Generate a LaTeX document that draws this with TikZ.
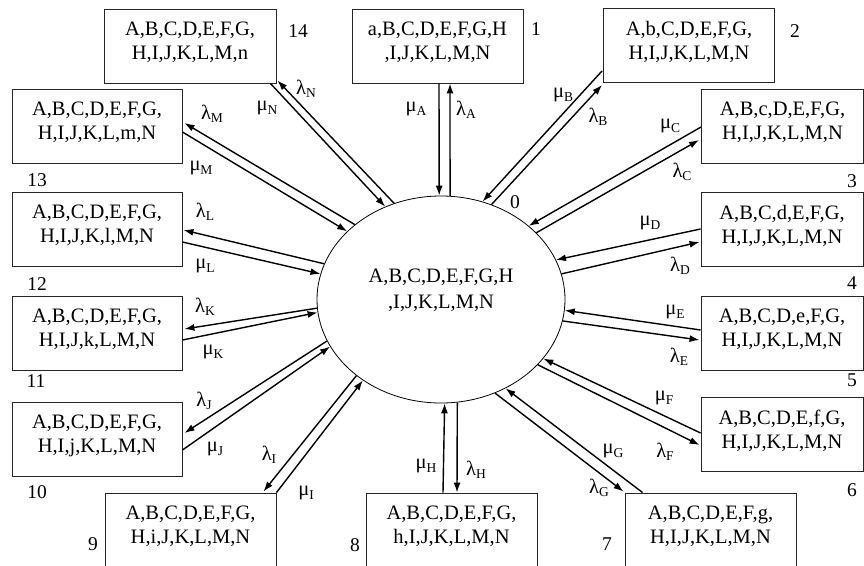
\documentclass[tikz,border=0pt]{standalone}
\usepackage{fontspec}
\setmainfont{Liberation Serif}
\usetikzlibrary{arrows.meta,calc,shapes.geometric}
\newcommand{\gl}[2]{{\fontsize{20.5}{20}\selectfont #1\raisebox{-3.5pt}{\fontsize{13.5}{13}\selectfont #2}}}
\newcommand{\bx}[2]{#1\\#2\rule[-10pt]{0pt}{0pt}}
\begin{document}
\begin{tikzpicture}[x=1pt,y=-1pt,
  state/.style={draw=black!85,line width=0.9pt,minimum width=171,minimum height=74,inner sep=0,align=center,font=\fontsize{20.5}{24}\selectfont},
  rstate/.style={state,minimum width=162},
  hub/.style={ellipse,draw,line width=0.8pt,minimum width=248,minimum height=207,inner sep=0},
  num/.style={inner sep=0,font=\fontsize{19.5}{19}\selectfont},
  lab/.style={inner sep=0},
  tr/.style={line width=1.4pt,-{Latex[length=10pt,width=7pt]}}
]
\useasboundingbox (0,0) rectangle (864,565);
\clip (0,0) rectangle (864,565);

% hub
\node[hub] (c0) at (441,299.5) {};
\node[inner sep=0,align=center,font=\fontsize{20.5}{26}\selectfont] (c0t) at (441,290) {A,B,C,D,E,F,G,H\\,I,J,K,L,M,N};
\node[num] (n0) at (515,202) {0};

% boxes
\node[state]  (b1)  at (437.5,46)  {\bx{a,B,C,D,E,F,G,H}{,I,J,K,L,M,N}};
\node[state]  (b2)  at (689,45.5)  {\bx{A,b,C,D,E,F,G,}{H,I,J,K,L,M,N}};
\node[rstate] (b3)  at (782.5,126) {\bx{A,B,c,D,E,F,G,}{H,I,J,K,L,M,N}};
\node[rstate] (b4)  at (782,229)   {\bx{A,B,C,d,E,F,G,}{H,I,J,K,L,M,N}};
\node[rstate] (b5)  at (782,333)   {\bx{A,B,C,D,e,F,G,}{H,I,J,K,L,M,N}};
\node[rstate] (b6)  at (782,434)   {\bx{A,B,C,D,E,f,G,}{H,I,J,K,L,M,N}};
\node[state]  (b7)  at (710.5,530) {\bx{A,B,C,D,E,F,g,}{H,I,J,K,L,M,N}};
\node[state]  (b8)  at (451.5,530) {\bx{A,B,C,D,E,F,G,}{h,I,J,K,L,M,N}};
\node[state]  (b9)  at (190.5,530) {\bx{A,B,C,D,E,F,G,}{H,i,J,K,L,M,N}};
\node[state,minimum width=170] (b10) at (97,439) {\bx{A,B,C,D,E,F,G,}{H,I,j,K,L,M,N}};
\node[state,minimum width=170] (b11) at (97,333) {\bx{A,B,C,D,E,F,G,}{H,I,J,k,L,M,N}};
\node[state,minimum width=170] (b12) at (97,229) {\bx{A,B,C,D,E,F,G,}{H,I,J,K,l,M,N}};
\node[state,minimum width=170] (b13) at (97,126) {\bx{A,B,C,D,E,F,G,}{H,I,J,K,L,m,N}};
\node[state,minimum width=172] (b14) at (190,46) {\bx{A,B,C,D,E,F,G,}{H,I,J,K,L,M,n}};

% state numbers
\node[num] (n1)  at (536,29)  {1};
\node[num] (n2)  at (795,31)  {2};
\node[num] (n3)  at (852,181) {3};
\node[num] (n4)  at (852,283) {4};
\node[num] (n5)  at (852,380) {5};
\node[num] (n6)  at (852,490) {6};
\node[num] (n7)  at (607,544) {7};
\node[num] (n8)  at (355,545) {8};
\node[num] (n9)  at (93,544)  {9};
\node[num] (n10) at (37,492)  {10};
\node[num] (n11) at (36,381)  {11};
\node[num] (n12) at (37,284)  {12};
\node[num] (n13) at (37,180)  {13};
\node[num] (n14) at (298,31)  {14};

% transitions
\draw[tr] ($(b1.south)+(1.5,0)$) -- (c0.91.1);
\draw[tr] (c0.85) -- ($(b1.south)+(12.5,0)$);

\draw[tr] ($(b2.south west)+(-1,-12)$) -- (c0.67.3);
\draw[tr] (c0.62.7) -- ($(b2.south west)+(-1,2)$);

\draw[tr] ($(b3.west)+(0,1)$) -- (c0.40.9);
\draw[tr] (c0.35.3) -- ($(b3.west)+(-2,14)$);

\draw[tr] (b4.west) -- (c0.19);
\draw[tr] (c0.12.5) -- ($(b4.west)+(-1,13)$);

\draw[tr] ($(b5.west)+(0,-3)$) -- (c0.-5);
\draw[tr] (c0.-10.5) -- ($(b5.west)+(-1,7)$);

\draw[tr] ($(b6.west)+(0,-1)$) -- (c0.-30);
\draw[tr] (c0.-34.2) -- ($(b6.west)+(-1,11)$);

\draw[tr] ($(b7.north west)+(18,0)$) -- (c0.-54.6);
\draw[tr] (c0.-60.4) -- ($(b7.north west)+(-1,-1)$);

\draw[tr] ($(b8.north)+(-8.5,0)$) -- (c0.-88.9);
\draw[tr] (c0.-81.1) -- ($(b8.north)+(5.5,0)$);

\draw[tr] (c0.222.9) -- ($(b9.north east)+(-13,-1)$);
\draw[tr] (b9.north east) -- (c0.226.8);

\draw[tr] (c0.200.3) -- ($(b10.east)+(2,-6)$);
\draw[tr] ($(b10.east)+(0,11)$) -- (c0.203.3);

\draw[tr] (c0.184.6) -- ($(b11.east)+(2,-4)$);
\draw[tr] ($(b11.east)+(0,7)$) -- (c0.186.3);

\draw[tr] (c0.163.3) -- ($(b12.east)+(1,1)$);
\draw[tr] ($(b12.east)+(0,13)$) -- (c0.168.6);

\draw[tr] (c0.139.1) -- ($(b13.east)+(2,-3)$);
\draw[tr] ($(b13.east)+(0,6)$) -- (c0.144.5);

\draw[tr] (c0.116.3) -- ($(b14.south east)+(1,-3)$);
\draw[tr] ($(b14.south east)+(-6,0)$) -- (c0.121.1);

% rate labels
\node[lab] (mA) at (416,109) {\gl{μ}{A}};
\node[lab] (lA) at (466,110) {\gl{λ}{A}};
\node[lab] (mB) at (563,95)  {\gl{μ}{B}};
\node[lab] (lB) at (598,117) {\gl{λ}{B}};
\node[lab] (mC) at (670,126) {\gl{μ}{C}};
\node[lab] (lC) at (682,172) {\gl{λ}{C}};
\node[lab] (mD) at (650,223) {\gl{μ}{D}};
\node[lab] (lD) at (680,266) {\gl{λ}{D}};
\node[lab] (mE) at (675,312) {\gl{μ}{E}};
\node[lab] (lE) at (679,357) {\gl{λ}{E}};
\node[lab] (mF) at (664,398) {\gl{μ}{F}};
\node[lab] (lF) at (665,452) {\gl{λ}{F}};
\node[lab] (mG) at (613,451) {\gl{μ}{G}};
\node[lab] (lG) at (599,488) {\gl{λ}{G}};
\node[lab] (mH) at (426,466) {\gl{μ}{H}};
\node[lab] (lH) at (476,470) {\gl{λ}{H}};
\node[lab] (lI) at (269,455) {\gl{λ}{I}};
\node[lab] (mI) at (306,493) {\gl{μ}{I}};
\node[lab] (lJ) at (204,401) {\gl{λ}{J}};
\node[lab] (mJ) at (215,449) {\gl{μ}{J}};
\node[lab] (lK) at (205,307) {\gl{λ}{K}};
\node[lab] (mK) at (213,352) {\gl{μ}{K}};
\node[lab] (lL) at (205,212) {\gl{λ}{L}};
\node[lab] (mL) at (205,266) {\gl{μ}{L}};
\node[lab] (lM) at (212,114) {\gl{λ}{M}};
\node[lab] (mM) at (201,168) {\gl{μ}{M}};
\node[lab] (mN) at (267,108) {\gl{μ}{N}};
\node[lab] (lN) at (306,89)  {\gl{λ}{N}};
\end{tikzpicture}
\end{document}
